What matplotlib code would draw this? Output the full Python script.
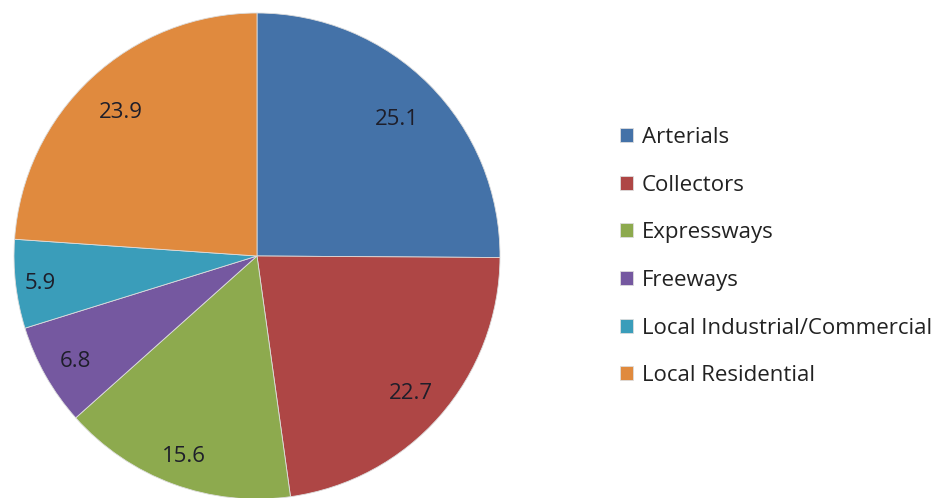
import matplotlib
matplotlib.use("Agg")
import matplotlib.pyplot as plt
import numpy as np

categories = ["Arterials", "Collectors", "Expressways", "Freeways",
              "Local Industrial/Commercial", "Local Residential"]
values = [25.1, 22.7, 15.6, 6.8, 5.9, 23.9]
colors = ["#4472A8", "#AE4645", "#8DAA4E", "#7558A0", "#3A9DBA", "#E08A3E"]
label_r = [0.81, 0.84, 0.87, 0.86, 0.90, 0.82]

plt.rcParams['font.family'] = ['Open Sans', 'DejaVu Sans']

W, H = 953, 498
fig = plt.figure(figsize=(W / 100, H / 100), dpi=100)
cx, cy, R = 257, 242, 243
ax = fig.add_axes([(cx - R) / W, (cy - R) / H, 2 * R / W, 2 * R / H])

wedges, _ = ax.pie(values, colors=colors, startangle=90, counterclock=False,
                   radius=1.0, wedgeprops=dict(edgecolor="#dddddd", linewidth=0.6))
ax.set_xlim(-1, 1)
ax.set_ylim(-1, 1)
ax.set_aspect('equal')
ax.axis('off')

for w, v, r in zip(wedges, values, label_r):
    mid = np.deg2rad((w.theta1 + w.theta2) / 2)
    ax.text(r * np.cos(mid), r * np.sin(mid), f"{v:.1f}", ha='center',
            va='center_baseline', fontsize=16, color='#1e1e2a')

leg = fig.legend(wedges, categories, loc='upper left',
                 bbox_to_anchor=(611 / W, 1 - 118 / H), frameon=False,
                 fontsize=16, handlelength=0.6, handleheight=0.6,
                 handletextpad=0.4, labelspacing=1.2, borderaxespad=0)
for t in leg.get_texts():
    t.set_color('#222222')

fig.savefig("out.png", dpi=100)
